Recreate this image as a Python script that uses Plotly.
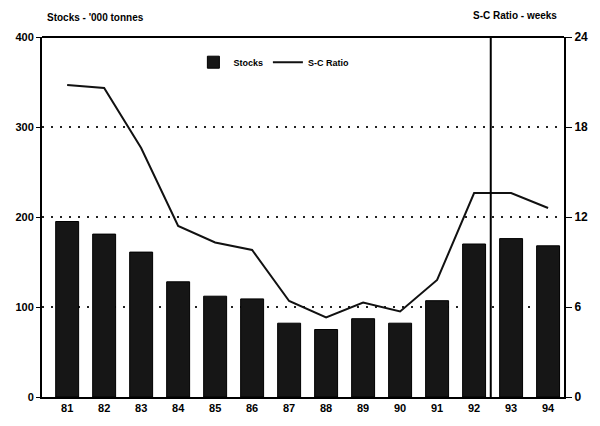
import plotly.graph_objects as go

years = ["81", "82", "83", "84", "85", "86", "87", "88", "89", "90", "91", "92", "93", "94"]
stocks = [195, 181, 161, 128, 112, 109, 82, 75, 87, 82, 107, 170, 176, 168]
sc_ratio = [20.8, 20.6, 16.6, 11.4, 10.3, 9.8, 6.4, 5.3, 6.3, 5.7, 7.8, 13.6, 13.6, 12.6]
left_ticks = [0, 100, 200, 300, 400]
right_ticks = [0, 6, 12, 18, 24]

font_family = "Liberation Sans, Arial, sans-serif"

fig = go.Figure()
fig.add_trace(go.Bar(
    x=years, y=stocks, name="<b>Stocks</b>",
    marker=dict(color="#161616", line=dict(color="#000", width=1)),
    width=0.62, yaxis="y",
))
fig.add_trace(go.Scatter(
    x=years, y=sc_ratio, name="<b>S-C Ratio</b>", mode="lines",
    line=dict(color="#111", width=2), yaxis="y2",
))

# forecast separator between 92 and 93
fig.add_shape(type="line", xref="x", yref="paper", x0=11.45, x1=11.45, y0=0, y1=1,
              line=dict(color="#000", width=2))

fig.add_annotation(text="<b>Stocks - '000 tonnes</b>", xref="paper", yref="paper",
                   x=0.005, y=1.033, xanchor="left", yanchor="bottom", showarrow=False,
                   font=dict(size=10, family=font_family, color="#000"))
fig.add_annotation(text="<b>S-C Ratio - weeks</b>", xref="paper", yref="paper",
                   x=0.99, y=1.038, xanchor="right", yanchor="bottom", showarrow=False,
                   font=dict(size=10, family=font_family, color="#000"))

fig.update_layout(
    width=600, height=426,
    margin=dict(l=42, r=35, t=37, b=23),
    paper_bgcolor="white", plot_bgcolor="white",
    font=dict(family=font_family, size=11, color="#000"),
    showlegend=True,
    legend=dict(orientation="h", x=0.29, y=0.93, xanchor="left", yanchor="middle",
                bgcolor="rgba(0,0,0,0)", font=dict(size=9, family=font_family),
                itemwidth=30, tracegroupgap=0),
    bargap=0.38,
    xaxis=dict(
        type="category", range=[-0.68, 13.43], tickmode="array",
        tickvals=years, ticktext=["<b>%s</b>" % y for y in years],
        showline=True, linecolor="#000", linewidth=2, mirror=False,
        ticks="", showgrid=False, zeroline=False,
        tickfont=dict(size=11),
    ),
    yaxis=dict(
        range=[0, 400], tickmode="array", tickvals=left_ticks,
        ticktext=["<b>%d</b>" % v for v in left_ticks],
        showline=True, linecolor="#000", linewidth=2,
        ticks="outside", ticklen=4, tickcolor="#000",
        showgrid=True, gridcolor="#222", gridwidth=2, griddash="2px,7px",
        zeroline=False, tickfont=dict(size=11),
    ),
    yaxis2=dict(
        range=[0, 24], overlaying="y", side="right", tickmode="array",
        tickvals=right_ticks, ticktext=["<b>%d</b>" % v for v in right_ticks],
        showline=True, linecolor="#000", linewidth=2,
        ticks="outside", ticklen=6, tickcolor="#000",
        showgrid=False, zeroline=False, tickfont=dict(size=12),
    ),
)

# top frame
fig.add_shape(type="line", xref="paper", yref="paper", x0=0, x1=1, y0=1, y1=1,
              line=dict(color="#000", width=2))

fig.write_html("out.html", config={"displayModeBar": False},
               post_script="document.body.style.margin='0';document.body.style.overflow='hidden';")
